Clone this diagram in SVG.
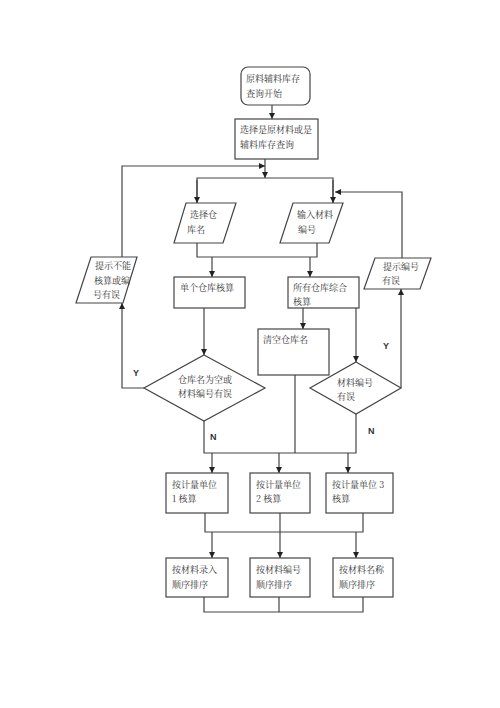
<svg xmlns="http://www.w3.org/2000/svg" width="500" height="708" viewBox="0 0 500 708">
<defs>
<marker id="ah" viewBox="0 0 10 10" refX="10" refY="5" markerWidth="6" markerHeight="6" orient="auto" markerUnits="userSpaceOnUse">
<path d="M0,0 L10,5 L0,10 z" fill="#222"/>
</marker>
</defs>
<style>
.s{fill:#fff;stroke:#444;stroke-width:1.2}
.c{fill:none;stroke:#444;stroke-width:1.2}
.a{fill:none;stroke:#444;stroke-width:1.2;marker-end:url(#ah)}
text{font-family:"Noto Serif CJK SC","Noto Sans CJK SC",serif;font-size:9px;fill:#333}
.l{font-family:"Liberation Sans",Arial,sans-serif;font-size:9px;font-weight:bold;fill:#333}
</style>
<rect width="500" height="708" fill="#fff"/>
<g id="connectors">
<line class="a" x1="272" y1="105" x2="272" y2="119"/>
<line class="a" x1="265" y1="159" x2="265" y2="178"/>
<polyline class="c" points="197,203 197,178 333,178 333,203"/>
<line class="a" x1="197" y1="180" x2="197" y2="203"/>
<line class="a" x1="333" y1="180" x2="333" y2="203"/>
<polyline class="a" points="122,257 122,166 265,166"/>
<polyline class="a" points="402,258 402,192 335,192"/>
<polyline class="c" points="197,243 197,257 317,257 317,243"/>
<line class="a" x1="212" y1="257" x2="212" y2="277"/>
<line class="a" x1="310" y1="257" x2="310" y2="277"/>
<line class="a" x1="204" y1="308" x2="204" y2="355"/>
<line class="a" x1="303" y1="308" x2="303" y2="329"/>
<line class="a" x1="356" y1="308" x2="356" y2="362"/>
<polyline class="a" points="144,388 122,388 122,303"/>
<polyline class="a" points="401,388 401,289"/>
<polyline class="c" points="204,421 204,453 356,453 356,414"/>
<line class="c" x1="295" y1="375" x2="295" y2="453"/>
<line class="a" x1="212" y1="453" x2="212" y2="473"/>
<line class="a" x1="279" y1="453" x2="279" y2="473"/>
<line class="a" x1="348" y1="453" x2="348" y2="473"/>
<polyline class="c" points="205,513 205,532 363,532 363,513"/>
<line class="c" x1="280" y1="513" x2="280" y2="532"/>
<line class="a" x1="212" y1="532" x2="212" y2="558"/>
<line class="a" x1="280" y1="532" x2="280" y2="558"/>
<line class="a" x1="356" y1="532" x2="356" y2="558"/>
<polyline class="c" points="204,597 204,612 363,612 363,597"/>
<line class="c" x1="279" y1="597" x2="279" y2="612"/>
<text class="l" x="133" y="376">Y</text>
<text class="l" x="210" y="440">N</text>
<text class="l" x="383" y="349">Y</text>
<text class="l" x="368" y="434">N</text>
</g>
<g id="start"><rect class="s" x="241" y="67" width="69" height="38" rx="7"/><text x="246" y="82">原料辅料库存</text><text x="246" y="97">查询开始</text></g>
<g id="select-type"><rect class="s" x="235" y="119" width="83" height="40"/><text x="240" y="133">选择是原材料或是</text><text x="240" y="148">辅料库存查询</text></g>
<g id="select-warehouse"><polygon class="s" points="186,203 236,203 223,243 174,243"/><text x="190" y="218">选择仓</text><text x="187" y="233">库名</text></g>
<g id="input-code"><polygon class="s" points="293,203 343,203 329,243 280,243"/><text x="297" y="218">输入材料</text><text x="298" y="233">编号</text></g>
<g id="single"><rect class="s" x="174" y="277" width="71" height="31"/><text x="180" y="291">单个仓库核算</text></g>
<g id="all"><rect class="s" x="288" y="277" width="71" height="31"/><text x="293" y="291">所有仓库综合</text><text x="293" y="305">核算</text></g>
<g id="clear"><rect class="s" x="258" y="329" width="71" height="46"/><text x="263" y="343">清空仓库名</text></g>
<g id="warn-left"><polygon class="s" points="91,257 137,257 123,303 76,303"/><text x="95" y="269">提示不能</text><text x="94" y="284">核算或编</text><text x="93" y="298">号有误</text></g>
<g id="warn-right"><polygon class="s" points="375,258 431,258 420,289 364,289"/><text x="383" y="270">提示编号</text><text x="382" y="284">有误</text></g>
<g id="check1"><polygon class="s" points="204,355 265,388 204,421 144,388"/><text x="178" y="383">仓库名为空或</text><text x="178" y="397">材料编号有误</text></g>
<g id="check2"><polygon class="s" points="356,362 401,388 356,414 310,388"/><text x="337" y="386">材料编号</text><text x="337" y="400">有误</text></g>
<g id="unit1"><rect class="s" x="166" y="473" width="62" height="40"/><text x="172" y="488">按计量单位</text><text x="172" y="502">1 核算</text></g>
<g id="unit2"><rect class="s" x="250" y="473" width="60" height="40"/><text x="256" y="488">按计量单位</text><text x="256" y="502">2 核算</text></g>
<g id="unit3"><rect class="s" x="326" y="473" width="67" height="40"/><text x="332" y="488">按计量单位 3</text><text x="332" y="502">核算</text></g>
<g id="sort1"><rect class="s" x="166" y="558" width="62" height="39"/><text x="172" y="573">按材料录入</text><text x="172" y="588">顺序排序</text></g>
<g id="sort2"><rect class="s" x="250" y="558" width="60" height="39"/><text x="256" y="573">按材料编号</text><text x="256" y="588">顺序排序</text></g>
<g id="sort3"><rect class="s" x="333" y="558" width="60" height="39"/><text x="339" y="573">按材料名称</text><text x="339" y="588">顺序排序</text></g>
</svg>
